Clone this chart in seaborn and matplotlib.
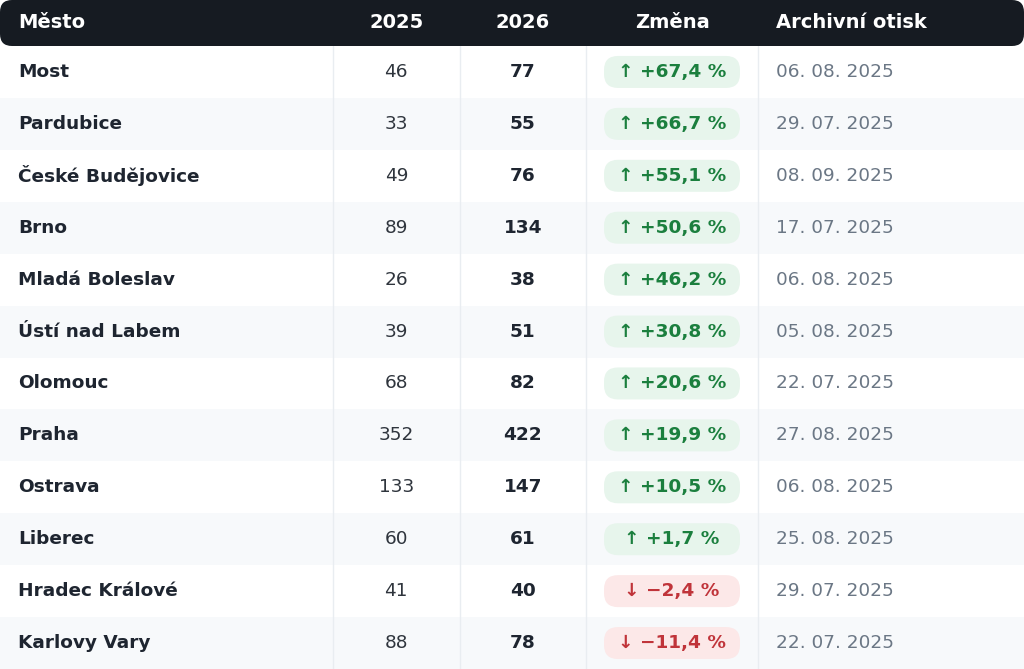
import matplotlib
matplotlib.use("Agg")
import matplotlib.pyplot as plt
from matplotlib.patches import FancyBboxPatch, Rectangle
import seaborn as sns

CITIES = [
    "Most", "Pardubice", "České Budějovice", "Brno", "Mladá Boleslav",
    "Ústí nad Labem", "Olomouc", "Praha", "Ostrava", "Liberec",
    "Hradec Králové", "Karlovy Vary",
]
VALUES_2025 = [46, 33, 49, 89, 26, 39, 68, 352, 133, 60, 41, 88]
VALUES_2026 = [77, 55, 76, 134, 38, 51, 82, 422, 147, 61, 40, 78]
CHANGES = [67.4, 66.7, 55.1, 50.6, 46.2, 30.8, 20.6, 19.9, 10.5, 1.7, -2.4, -11.4]
ARCHIVE_DATES = [
    "06. 08. 2025", "29. 07. 2025", "08. 09. 2025", "17. 07. 2025",
    "06. 08. 2025", "05. 08. 2025", "22. 07. 2025", "27. 08. 2025",
    "06. 08. 2025", "25. 08. 2025", "29. 07. 2025", "22. 07. 2025",
]
HEADERS = ["Město", "2025", "2026", "Změna", "Archivní otisk"]

W, H = 1024, 669
HEADER_H = 46
ROW_H = (H - HEADER_H) / len(CITIES)
COL_EDGES = [0, 333, 459.5, 586, 758, 1024]
PAD = 18

HEADER_BG = "#161b22"
STRIPE = "#f7f9fb"
GRID = "#e9edf1"
TEXT_DARK = "#1e2530"
TEXT_NUM = "#2f353d"
TEXT_DATE = "#6b7785"
GREEN_BG, GREEN_FG = "#e7f5ec", "#1b7f3e"
RED_BG, RED_FG = "#fce8e8", "#c0343a"

sns.set_theme(style="white")
plt.rcParams["font.family"] = ["DejaVu Sans"]

fig = plt.figure(figsize=(W / 100, H / 100), dpi=100)
ax = fig.add_axes([0, 0, 1, 1])
ax.set_xlim(0, W)
ax.set_ylim(H, 0)
ax.set_aspect("equal")
ax.axis("off")

FS = 13.3
HFS = 14

# header
ax.add_patch(FancyBboxPatch((0, 0), W, HEADER_H, boxstyle="round,pad=0,rounding_size=12",
                            facecolor=HEADER_BG, edgecolor="none", zorder=2))
centers = [(COL_EDGES[i] + COL_EDGES[i + 1]) / 2 for i in range(5)]
hy = HEADER_H / 2
ax.text(PAD, hy, HEADERS[0], color="white", fontsize=HFS, fontweight="bold", va="center", ha="left", zorder=3)
for i in (1, 2, 3):
    ax.text(centers[i], hy, HEADERS[i], color="white", fontsize=HFS, fontweight="bold",
            va="center", ha="center", zorder=3)
ax.text(COL_EDGES[4] + PAD, hy, HEADERS[4], color="white", fontsize=HFS, fontweight="bold",
        va="center", ha="left", zorder=3)

# rows
for i, city in enumerate(CITIES):
    top = HEADER_H + i * ROW_H
    cy = top + ROW_H / 2
    if i % 2 == 1:
        ax.add_patch(Rectangle((0, top), W, ROW_H, facecolor=STRIPE, edgecolor="none", zorder=0))

    ax.text(PAD, cy, city, color=TEXT_DARK, fontsize=FS, fontweight="bold", va="center", ha="left")
    ax.text(centers[1], cy, str(VALUES_2025[i]), color=TEXT_NUM, fontsize=FS, va="center", ha="center")
    ax.text(centers[2], cy, str(VALUES_2026[i]), color=TEXT_DARK, fontsize=FS, fontweight="bold",
            va="center", ha="center")

    ch = CHANGES[i]
    up = ch >= 0
    bg, fg = (GREEN_BG, GREEN_FG) if up else (RED_BG, RED_FG)
    pill_h = 32
    ax.add_patch(FancyBboxPatch((COL_EDGES[3] + PAD, cy - pill_h / 2),
                                COL_EDGES[4] - COL_EDGES[3] - 2 * PAD, pill_h,
                                boxstyle="round,pad=0,rounding_size=14",
                                facecolor=bg, edgecolor="none", zorder=1))
    label = f"{abs(ch):.1f}".replace(".", ",")
    label = f"↑ +{label} %" if up else f"↓ −{label} %"
    ax.text(centers[3], cy, label, color=fg, fontsize=FS, fontweight="bold",
            va="center", ha="center", zorder=2)

    ax.text(COL_EDGES[4] + PAD, cy, ARCHIVE_DATES[i], color=TEXT_DATE, fontsize=FS,
            va="center", ha="left")

# column dividers
for x in COL_EDGES[1:5]:
    ax.plot([x, x], [HEADER_H, H], color=GRID, linewidth=1, zorder=0.5)

fig.savefig("out.png", dpi=100, facecolor="white")
